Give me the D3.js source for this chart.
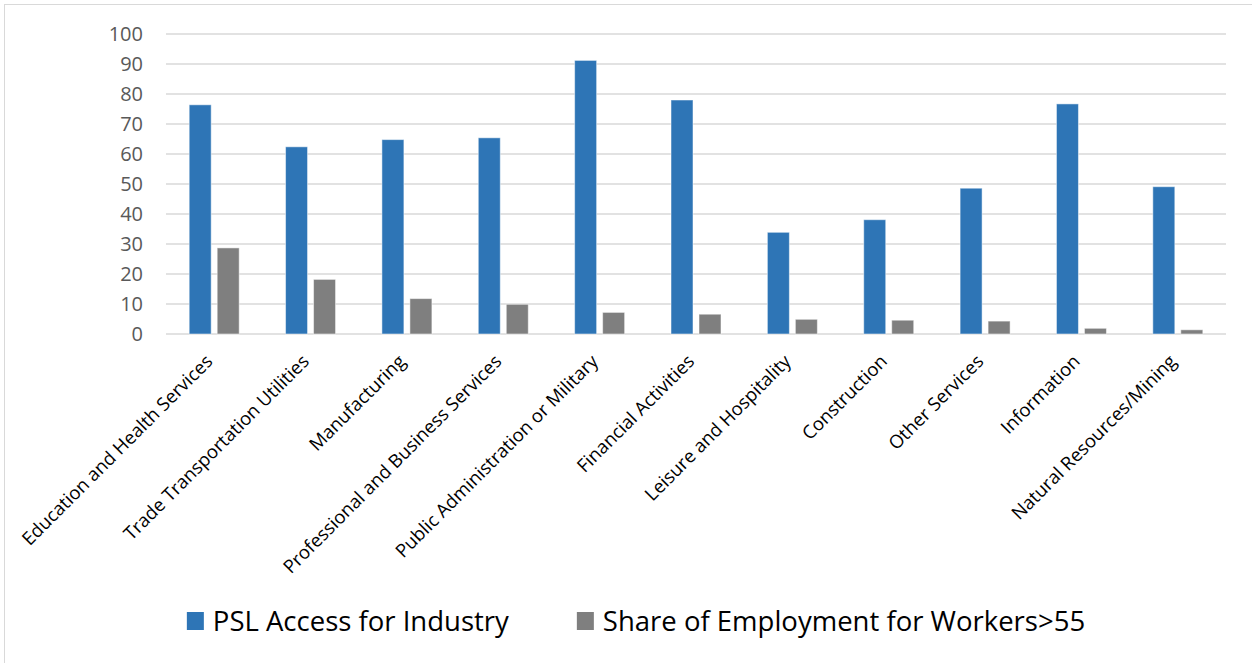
<!DOCTYPE html>
<meta charset="utf-8">
<script src="https://d3js.org/d3.v7.min.js"></script>
<style>
  body { margin: 0; background: #fff; }
  svg { display: block; }
</style>
<div id="chart"></div>
<script>

// data
var industries = ["Education and Health Services", "Trade Transportation Utilities", "Manufacturing",
  "Professional and Business Services", "Public Administration or Military", "Financial Activities",
  "Leisure and Hospitality", "Construction", "Other Services", "Information", "Natural Resources/Mining"];
var pslAccess = [76.4, 62.4, 64.8, 65.4, 91.2, 78.0, 33.9, 38.1, 48.6, 76.7, 49.1];
var shareOver55 = [28.7, 18.2, 11.8, 9.9, 7.2, 6.6, 4.9, 4.6, 4.3, 1.9, 1.4];
var seriesNames = ["PSL Access for Industry", "Share of Employment for Workers>55"];
var yTicks = [0, 10, 20, 30, 40, 50, 60, 70, 80, 90, 100];

var colors = ["#2E75B6", "#7F7F7F"];
var W = 1252, H = 663;

var svg = d3.select("#chart").append("svg")
  .attr("width", W)
  .attr("height", H);

// chart frame
svg.append("rect")
  .attr("x", 4.5).attr("y", 4.5)
  .attr("width", W + 10).attr("height", H + 10)
  .attr("fill", "none")
  .attr("stroke", "#D9D9D9");

var x = d3.scaleBand()
  .domain(industries)
  .range([166, 1226]);

var y = d3.scaleLinear()
  .domain([0, 100])
  .range([334, 34]);

// gridlines
svg.append("g")
  .selectAll("line")
  .data(yTicks)
  .enter().append("line")
    .attr("x1", 166).attr("x2", 1226)
    .attr("y1", d => y(d)).attr("y2", d => y(d))
    .attr("stroke", "#D9D9D9")
    .attr("stroke-width", 1.5);

// y axis labels
var yAxis = svg.append("g")
  .attr("transform", "translate(155,0)")
  .call(d3.axisLeft(y).tickValues(yTicks).tickSize(0).tickPadding(12));
yAxis.select(".domain").remove();
yAxis.selectAll("text")
  .attr("font-family", "Open Sans")
  .attr("font-size", 20)
  .attr("fill", "#595959");

// bars
var barW = 22, barGap = 6;
var groupW = barW * 2 + barGap;
var rows = industries.map((d, i) => ({ name: d, vals: [pslAccess[i], shareOver55[i]] }));

var groups = svg.append("g")
  .selectAll("g")
  .data(rows)
  .enter().append("g")
    .attr("transform", d => "translate(" + (x(d.name) + (x.bandwidth() - groupW) / 2) + ",0)");

groups.selectAll("rect")
  .data(d => d.vals)
  .enter().append("rect")
    .attr("x", (d, i) => i * (barW + barGap))
    .attr("y", d => y(d))
    .attr("width", barW)
    .attr("height", d => y(0) - y(d))
    .attr("fill", (d, i) => colors[i])
    .attr("stroke", "#ffffff")
    .attr("stroke-opacity", 0.5)
    .attr("stroke-width", 1);

// rotated category labels
svg.append("g")
  .selectAll("text")
  .data(industries)
  .enter().append("text")
    .attr("transform", d => "translate(" + (x(d) + x.bandwidth() / 2 - 5) + ",358) rotate(-45)")
    .attr("text-anchor", "end")
    .attr("dy", "0.35em")
    .attr("font-family", "Open Sans")
    .attr("font-size", 18.5)
    .attr("fill", "#000")
    .text(d => d);

// legend
var legend = svg.append("g");
var lx = 0;
seriesNames.forEach(function(name, i) {
  var item = legend.append("g").attr("transform", "translate(" + lx + ",0)");
  item.append("rect")
    .attr("x", 0).attr("y", -9)
    .attr("width", 17).attr("height", 18)
    .attr("fill", colors[i]);
  var t = item.append("text")
    .attr("x", 26).attr("y", 0)
    .attr("dy", "0.35em")
    .attr("font-family", "Open Sans")
    .attr("font-size", 27.5)
    .attr("fill", "#000")
    .text(name);
  lx += 26 + t.node().getComputedTextLength() + 68;
});
var legendW = lx - 68;
legend.attr("transform", "translate(" + (636 - legendW / 2) + ",621)");

</script>
